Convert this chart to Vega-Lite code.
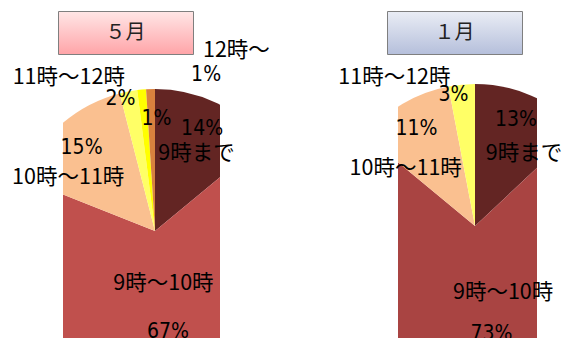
{
  "$schema": "https://vega.github.io/schema/vega-lite/v6.json",
  "background": "white",
  "padding": {"left": 0, "top": 10, "right": 0, "bottom": 0},
  "datasets": {
    "may": [
      {"cat": "9時まで", "pct": 0.14, "ord": 1},
      {"cat": "9時～10時", "pct": 0.67, "ord": 2},
      {"cat": "10時～11時", "pct": 0.15, "ord": 3},
      {"cat": "11時～12時", "pct": 0.02, "ord": 4},
      {"cat": "その他", "pct": 0.01, "ord": 5},
      {"cat": "12時～", "pct": 0.01, "ord": 6}
    ],
    "jan": [
      {"cat": "9時まで", "pct": 0.13, "ord": 1},
      {"cat": "9時～10時", "pct": 0.73, "ord": 2},
      {"cat": "10時～11時", "pct": 0.11, "ord": 3},
      {"cat": "11時～12時", "pct": 0.03, "ord": 4}
    ]
  },
  "spacing": 70,
  "bounds": "flush",
  "resolve": {"scale": {"color": "independent", "theta": "independent"}},
  "vconcat": [
    {
      "spacing": 0,
      "bounds": "flush",
      "hconcat": [
        {"width": 58, "height": 1, "data": {"values": []}, "mark": "point"},
        {
          "width": 135, "height": 43,
          "data": {"values": [{"t": "５月"}]},
          "view": {"stroke": "#7f7f7f", "fill": {"gradient": "linear", "x1": 0, "y1": 0, "x2": 0, "y2": 1, "stops": [{"offset": 0, "color": "#FFE6E6"}, {"offset": 1, "color": "#FFA4A8"}]}},
          "mark": {"type": "text", "font": "Noto Sans CJK JP", "fontSize": 20, "fill": "#222"},
          "encoding": {"text": {"field": "t"}}
        },
        {"width": 194, "height": 1, "data": {"values": []}, "mark": "point"},
        {
          "width": 135, "height": 43,
          "data": {"values": [{"t": "１月"}]},
          "view": {"stroke": "#7f7f7f", "fill": {"gradient": "linear", "x1": 0, "y1": 0, "x2": 0, "y2": 1, "stops": [{"offset": 0, "color": "#EAEDF5"}, {"offset": 1, "color": "#B5BFDB"}]}},
          "mark": {"type": "text", "font": "Noto Sans CJK JP", "fontSize": 20, "fill": "#222"},
          "encoding": {"text": {"field": "t"}}
        }
      ]
    },
    {
      "spacing": 0,
      "bounds": "flush",
      "resolve": {"scale": {"color": "independent", "theta": "independent"}},
      "hconcat": [
        {"width": 63, "height": 1, "data": {"values": []}, "mark": "point"},
        {
          "width": 157, "height": 258,
          "data": {"name": "may"},
          "encoding": {
            "theta": {"field": "pct", "type": "quantitative", "stack": true},
            "order": {"field": "ord", "type": "quantitative"}
          },
          "layer": [
            {"mark": {"type": "arc", "x": 92, "y": 150, "radius": 142, "clip": true},
             "encoding": {"color": {"field": "cat", "type": "nominal", "legend": null,
               "scale": {"domain": ["9時まで", "9時～10時", "10時～11時", "11時～12時", "その他", "12時～"],
                         "range": ["#632523", "#C0504D", "#FAC090", "#FFFF66", "#FFFF00", "#D8813E"]}}}},
            {"mark": {"type": "text", "style": "pct", "x": 92, "y": 150, "radius": 113, "dx": -1},
             "encoding": {"detail": {"field": "cat"}, "text": {"condition": {"test": "datum.cat==='9時まで'", "field": "pct", "type": "quantitative", "format": ".0%"}, "value": ""}}},
            {"mark": {"type": "text", "style": "nm", "x": 92, "y": 150, "radius": 88, "dx": 4, "dy": 3},
             "encoding": {"detail": {"field": "cat"}, "text": {"condition": {"test": "datum.cat==='9時まで'", "field": "cat"}, "value": ""}}},
            {"mark": {"type": "text", "style": "nm", "x": 92, "y": 150, "radius": 54},
             "encoding": {"detail": {"field": "cat"}, "text": {"condition": {"test": "datum.cat==='9時～10時'", "field": "cat"}, "value": ""}}},
            {"mark": {"type": "text", "style": "pct", "x": 92, "y": 150, "radius": 102, "dx": -3, "clip": true},
             "encoding": {"detail": {"field": "cat"}, "text": {"condition": {"test": "datum.cat==='9時～10時'", "field": "pct", "type": "quantitative", "format": ".0%"}, "value": ""}}},
            {"mark": {"type": "text", "style": "pct", "x": 92, "y": 150, "radius": 111},
             "encoding": {"detail": {"field": "cat"}, "text": {"condition": {"test": "datum.cat==='10時～11時'", "field": "pct", "type": "quantitative", "format": ".0%"}, "value": ""}}},
            {"mark": {"type": "text", "style": "nm", "x": 92, "y": 150, "radius": 98, "dx": -22, "dy": 21},
             "encoding": {"detail": {"field": "cat"}, "text": {"condition": {"test": "datum.cat==='10時～11時'", "field": "cat"}, "value": ""}}},
            {"mark": {"type": "text", "style": "pct", "x": 92, "y": 150, "radius": 136, "dx": -9, "dy": 2},
             "encoding": {"detail": {"field": "cat"}, "text": {"condition": {"test": "datum.cat==='11時～12時'", "field": "pct", "type": "quantitative", "format": ".0%"}, "value": ""}}},
            {"mark": {"type": "text", "style": "nm", "x": 92, "y": 150, "radius": 140, "dx": -60, "dy": -15},
             "encoding": {"detail": {"field": "cat"}, "text": {"condition": {"test": "datum.cat==='11時～12時'", "field": "cat"}, "value": ""}}},
            {"mark": {"type": "text", "style": "pct", "x": 92, "y": 150, "radius": 113, "dx": 12},
             "encoding": {"detail": {"field": "cat"}, "text": {"condition": {"test": "datum.cat==='その他'", "field": "pct", "type": "quantitative", "format": ".0%"}, "value": ""}}},
            {"mark": {"type": "text", "style": "nm", "x": 92, "y": 150, "radius": 178, "dx": 87, "dy": -2},
             "encoding": {"detail": {"field": "cat"}, "text": {"condition": {"test": "datum.cat==='12時～'", "field": "cat"}, "value": ""}}},
            {"mark": {"type": "text", "style": "pct", "x": 92, "y": 150, "radius": 156, "dx": 56, "dy": 0},
             "encoding": {"detail": {"field": "cat"}, "text": {"condition": {"test": "datum.cat==='12時～'", "field": "pct", "type": "quantitative", "format": ".0%"}, "value": ""}}}
          ]
        },
        {"width": 178, "height": 1, "data": {"values": []}, "mark": "point"},
        {
          "width": 139, "height": 258,
          "data": {"name": "jan"},
          "encoding": {
            "theta": {"field": "pct", "type": "quantitative", "stack": true},
            "order": {"field": "ord", "type": "quantitative"}
          },
          "layer": [
            {"mark": {"type": "arc", "x": 77, "y": 145, "radius": 142, "clip": true},
             "encoding": {"color": {"field": "cat", "type": "nominal", "legend": null,
               "scale": {"domain": ["9時まで", "9時～10時", "10時～11時", "11時～12時"],
                         "range": ["#632523", "#A94442", "#FAC090", "#FFFF66"]}}}},
            {"mark": {"type": "text", "style": "pct", "x": 77, "y": 145, "radius": 113, "dx": -4, "dy": -2},
             "encoding": {"detail": {"field": "cat"}, "text": {"condition": {"test": "datum.cat==='9時まで'", "field": "pct", "type": "quantitative", "format": ".0%"}, "value": ""}}},
            {"mark": {"type": "text", "style": "nm", "x": 77, "y": 145, "radius": 88, "dx": 14, "dy": 9},
             "encoding": {"detail": {"field": "cat"}, "text": {"condition": {"test": "datum.cat==='9時まで'", "field": "cat"}, "value": ""}}},
            {"mark": {"type": "text", "style": "nm", "x": 77, "y": 145, "radius": 67, "dx": 26},
             "encoding": {"detail": {"field": "cat"}, "text": {"condition": {"test": "datum.cat==='9時～10時'", "field": "cat"}, "value": ""}}},
            {"mark": {"type": "text", "style": "pct", "x": 77, "y": 145, "radius": 108, "dx": 13, "clip": true},
             "encoding": {"detail": {"field": "cat"}, "text": {"condition": {"test": "datum.cat==='9時～10時'", "field": "pct", "type": "quantitative", "format": ".0%"}, "value": ""}}},
            {"mark": {"type": "text", "style": "pct", "x": 77, "y": 145, "radius": 113, "dx": -1},
             "encoding": {"detail": {"field": "cat"}, "text": {"condition": {"test": "datum.cat==='10時～11時'", "field": "pct", "type": "quantitative", "format": ".0%"}, "value": ""}}},
            {"mark": {"type": "text", "style": "nm", "x": 77, "y": 145, "radius": 85, "dx": -26, "dy": 16},
             "encoding": {"detail": {"field": "cat"}, "text": {"condition": {"test": "datum.cat==='10時～11時'", "field": "cat"}, "value": ""}}},
            {"mark": {"type": "text", "style": "pct", "x": 77, "y": 145, "radius": 132, "dx": -9},
             "encoding": {"detail": {"field": "cat"}, "text": {"condition": {"test": "datum.cat==='11時～12時'", "field": "pct", "type": "quantitative", "format": ".0%"}, "value": ""}}},
            {"mark": {"type": "text", "style": "nm", "x": 77, "y": 145, "radius": 155, "dx": -66, "dy": 6},
             "encoding": {"detail": {"field": "cat"}, "text": {"condition": {"test": "datum.cat==='11時～12時'", "field": "cat"}, "value": ""}}}
          ]
        }
      ]
    }
  ],
  "config": {
    "view": {"stroke": null},
    "style": {
      "pct": {"font": "Liberation Sans Narrow, DejaVu Sans Condensed, sans-serif", "fontSize": 21, "fill": "#111"},
      "nm": {"font": "Noto Sans CJK JP", "fontSize": 21.5, "fill": "#111"}
    }
  }
}
